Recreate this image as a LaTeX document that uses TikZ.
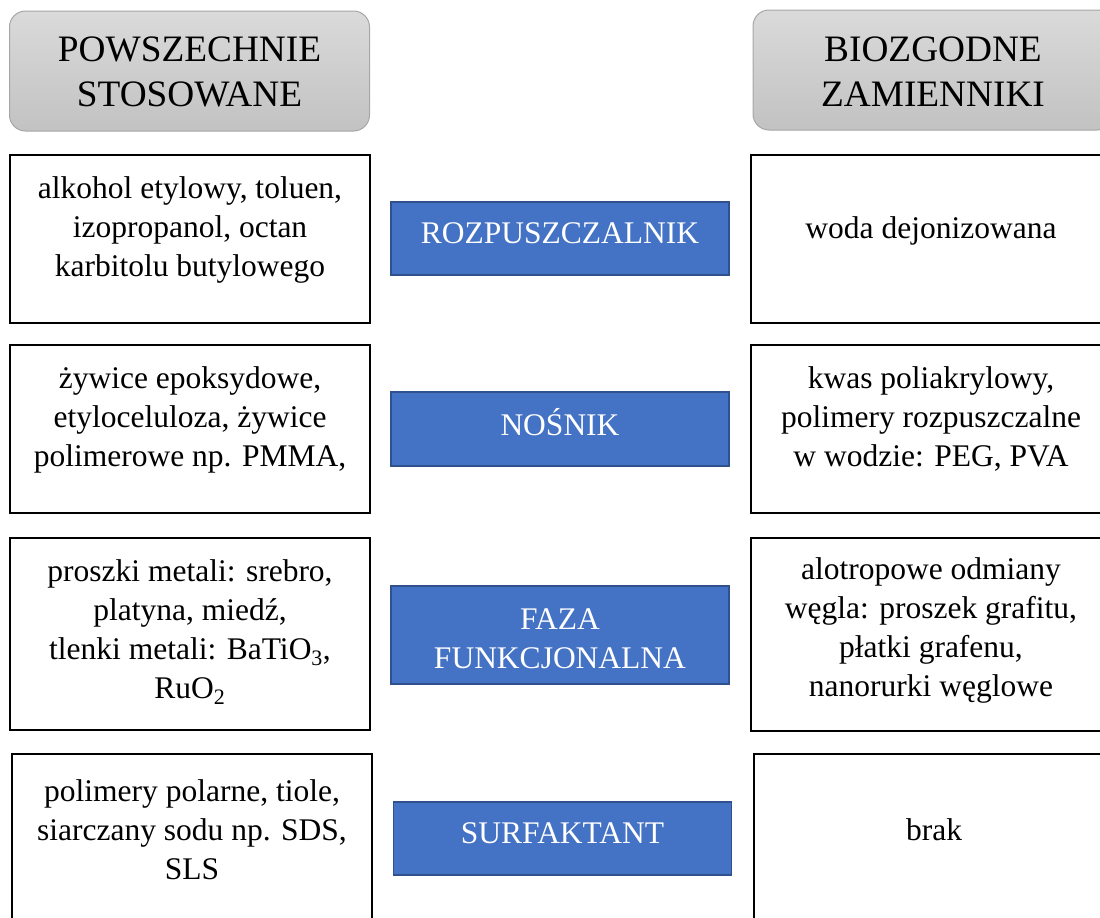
\documentclass[tikz,border=0pt]{standalone}
\usepackage{fontspec}
\setmainfont{Liberation Serif}
\definecolor{rolefill}{HTML}{4472C4}
\definecolor{roleline}{HTML}{2F528F}
\definecolor{headtop}{HTML}{DADADA}
\definecolor{headbot}{HTML}{C2C2C2}
\definecolor{headline}{HTML}{A6A6A6}
\begin{document}
\begin{tikzpicture}[x=1pt,y=-1pt,
  head/.style={draw=headline, line width=1pt, rounded corners=16pt,
    top color=headtop, bottom color=headbot, minimum width=360pt, minimum height=120pt},
  item/.style={draw=black, line width=2pt, fill=white, minimum width=360pt},
  role/.style={draw=roleline, line width=1.5pt, fill=rolefill, minimum width=338pt},
  body/.style={align=center, inner sep=0pt, font=\fontsize{31.5}{39}\selectfont},
  roletext/.style={body, text=white},
  headtext/.style={align=center, inner sep=0pt, font=\fontsize{37.3}{45}\selectfont}]
\useasboundingbox (0,0) rectangle (1100,918);
\clip (0,0) rectangle (1100,918);

% column headers
\node[head] (hl) at (189.5,71) {};
\node[head] (hr) at (933,70) {};
\node[headtext] (hlt) at (189.5,72) {POWSZECHNIE\\STOSOWANE};
\node[headtext] (hrt) at (933,72) {BIOZGODNE\\ZAMIENNIKI};

% row 1: solvent
\node[item, minimum height=168pt] (l1) at (190,239) {};
\node[item, minimum height=168pt] (r1) at (931,239) {};
\node[role, minimum height=73pt] (b1) at (560,238.5) {};
\node[body] (l1t) at (190,230) {alkohol etylowy, toluen,\\izopropanol, octan\\karbitolu butylowego};
\node[body] (r1t) at (931,231) {woda dejonizowana};
\node[roletext] (b1t) at (560,233.5) {ROZPUSZCZALNIK};

% row 2: carrier
\node[item, minimum height=168pt] (l2) at (190,429) {};
\node[item, minimum height=168pt] (r2) at (931,429) {};
\node[role, minimum height=74pt] (b2) at (560,429) {};
\node[body] (l2t) at (190,420) {żywice epoksydowe,\\etyloceluloza, żywice\\polimerowe np. PMMA,};
\node[body] (r2t) at (931,419) {kwas poliakrylowy,\\polimery rozpuszczalne\\w wodzie: PEG, PVA};
\node[roletext] (b2t) at (560,422) {NOŚNIK};

% row 3: functional phase
\node[item, minimum height=192pt] (l3) at (190,634) {};
\node[item, minimum height=193pt] (r3) at (931,634) {};
\node[role, minimum height=98pt] (b3) at (560,635) {};
\node[body] (l3t) at (190,632) {proszki metali: srebro,\\platyna, miedź,\\ tlenki metali: BaTiO\textsubscript{3},\\RuO\textsubscript{2}};
\node[body] (r3t) at (931,630) {alotropowe odmiany\\węgla: proszek grafitu,\\płatki grafenu,\\nanorurki węglowe};
\node[roletext] (b3t) at (560,639) {FAZA\\FUNKCJONALNA};

% row 4: surfactant
\node[item, minimum height=168pt] (l4) at (192,838) {};
\node[item, minimum height=168pt] (r4) at (934,838) {};
\node[role, minimum height=73pt] (b4) at (562.5,838.5) {};
\node[body] (l4t) at (192,830) {polimery polarne, tiole,\\siarczany sodu np. SDS,\\SLS};
\node[body] (r4t) at (934,830) {brak};
\node[roletext] (b4t) at (562.5,833) {SURFAKTANT};
\end{tikzpicture}
\end{document}
